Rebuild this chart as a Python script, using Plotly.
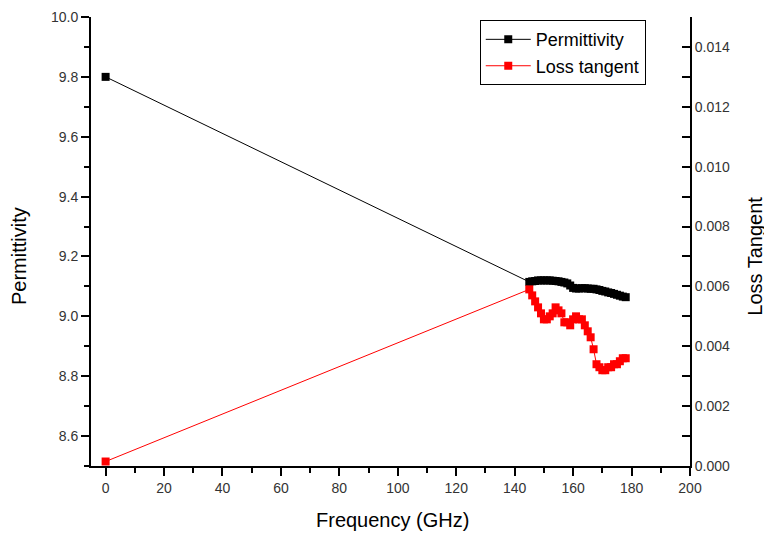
import plotly.graph_objects as go

freq = [0, 145, 146, 147, 148, 149, 150, 151, 152, 153, 154, 155, 156, 157, 158, 159, 160, 161,
        162, 163, 164, 165, 166, 167, 168, 169, 170, 171, 172, 173, 174, 175, 176, 177, 178]

permittivity = [9.80, 9.115, 9.117, 9.118, 9.12, 9.12, 9.12, 9.12, 9.12, 9.119, 9.118, 9.117,
                9.115, 9.113, 9.11, 9.103, 9.095, 9.093, 9.093, 9.094, 9.094, 9.093, 9.092,
                9.092, 9.09, 9.088, 9.085, 9.083, 9.08, 9.078, 9.075, 9.072, 9.069, 9.066, 9.064]

loss_tangent = [0.00015, 0.0059, 0.0057, 0.0055, 0.0053, 0.0051, 0.0049, 0.0049, 0.0050,
                0.0051, 0.0053, 0.0052, 0.0051, 0.0048, 0.0048, 0.0047, 0.0049, 0.0050,
                0.0049, 0.0049, 0.0047, 0.0045, 0.0043, 0.0039, 0.0034, 0.0033, 0.0032,
                0.0032, 0.0033, 0.0033, 0.0034, 0.0034, 0.0035, 0.0036, 0.0036]

x_ticks = [0, 20, 40, 60, 80, 100, 120, 140, 160, 180, 200]

fig = go.Figure()
fig.add_trace(go.Scatter(
    x=freq, y=permittivity, name="Permittivity", mode="lines+markers",
    line=dict(color="black", width=1),
    marker=dict(symbol="square", size=8, color="black"),
    yaxis="y"))
fig.add_trace(go.Scatter(
    x=freq, y=loss_tangent, name="Loss tangent", mode="lines+markers",
    line=dict(color="red", width=1),
    marker=dict(symbol="square", size=8, color="red"),
    yaxis="y2"))

font_family = "Liberation Sans, Arial, sans-serif"
title_font = dict(size=20, family=font_family, color="black")

fig.update_layout(
    width=772, height=533,
    margin=dict(l=83, r=90, t=9, b=75, autoexpand=False),
    paper_bgcolor="white", plot_bgcolor="white",
    font=dict(family=font_family, color="black"),
    showlegend=True,
    legend=dict(x=0.649, y=0.993, xanchor="left", yanchor="top",
                bordercolor="black", borderwidth=1, bgcolor="white",
                font=dict(size=18, family=font_family, color="black"),
                itemwidth=45, tracegroupgap=0),
    xaxis=dict(
        range=[-5, 200], tickvals=x_ticks, ticktext=[str(v) for v in x_ticks],
        automargin=False,
        showgrid=False, zeroline=False, showline=True, linecolor="black", linewidth=2,
        ticks="outside", ticklen=8, tickwidth=2, tickcolor="black",
        minor=dict(dtick=10, tick0=0, ticks="outside", ticklen=5, tickwidth=2, tickcolor="black"),
        tickfont=dict(size=14, color="#333333"),
    ),
    yaxis=dict(
        range=[8.5, 10.0], tick0=8.6, dtick=0.2, tickformat=".1f",
        automargin=False,
        showgrid=False, zeroline=False, showline=True, linecolor="black", linewidth=2,
        ticks="outside", ticklen=8, tickwidth=2, tickcolor="black",
        minor=dict(dtick=0.1, tick0=8.5, ticks="outside", ticklen=5, tickwidth=2, tickcolor="black"),
        tickfont=dict(size=14, color="#333333"),
    ),
    yaxis2=dict(
        range=[0, 0.015], tick0=0, dtick=0.002, tickformat=".3f",
        overlaying="y", side="right", automargin=False,
        showgrid=False, zeroline=False, showline=True, linecolor="black", linewidth=2,
        ticks="inside", ticklen=8, tickwidth=2, tickcolor="black",
        minor=dict(dtick=0.001, tick0=0, ticks="inside", ticklen=8, tickwidth=2, tickcolor="black"),
        tickfont=dict(size=14, color="#333333"),
    ),
    annotations=[
        dict(text="Frequency (GHz)", xref="paper", yref="paper", x=0.504, y=-0.1203,
             xanchor="center", yanchor="middle", showarrow=False, font=title_font),
        dict(text="Permittivity", xref="paper", yref="paper", x=-0.1202, y=0.4677,
             xanchor="center", yanchor="middle", showarrow=False, textangle=-90, font=title_font),
        dict(text="Loss Tangent", xref="paper", yref="paper", x=1.108, y=0.4677,
             xanchor="center", yanchor="middle", showarrow=False, textangle=-90, font=title_font),
    ],
)

fig.write_html("out.html")
